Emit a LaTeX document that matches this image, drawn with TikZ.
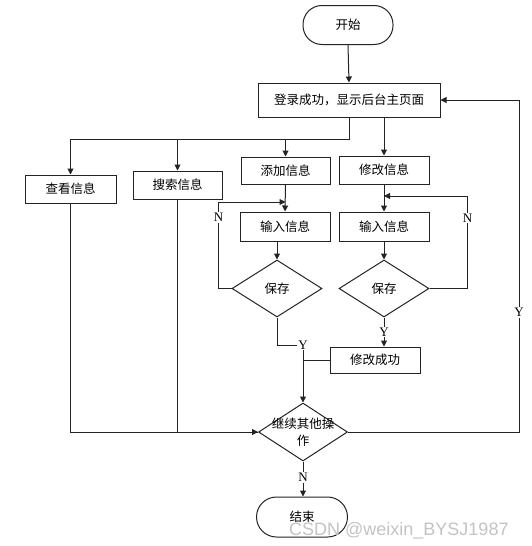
\documentclass[tikz,border=0pt]{standalone}
\usepackage{fontspec}
\setmainfont{Liberation Serif}
\newfontfamily\cjk{Noto Sans CJK SC}
\newfontfamily\wmfont{Liberation Sans}
\usetikzlibrary{arrows.meta,shapes.geometric}
\definecolor{linegray}{RGB}{35,35,35}
\definecolor{markgray}{RGB}{195,195,195}
\tikzset{
  box/.style={draw=linegray, line width=1pt, minimum width=90pt, minimum height=28pt,
    inner sep=0pt, font=\cjk\fontsize{12.5}{15}\selectfont},
  term/.style={box, rounded corners=19pt, minimum height=39pt},
  decision/.style={box, diamond, minimum width=90pt, minimum height=57pt},
  arr/.style={-{Triangle[length=6pt,width=6pt]}, line width=1pt, draw=linegray},
  link/.style={line width=1pt, draw=linegray},
  yn/.style={fill=white, inner sep=1pt, font=\fontsize{13}{13}\selectfont}
}
\begin{document}
\begin{tikzpicture}[x=1pt,y=-1pt]
    \useasboundingbox (0,0) rectangle (531,546);

    % nodes
    \node[term] (start) at (348,25) {开始};
    \node[box, minimum width=182pt, minimum height=34pt] (login) at (349,100) {登录成功，显示后台主页面};
    \node[box, minimum width=91pt] (view) at (70.5,189) {查看信息};
    \node[box, minimum width=89pt] (search) at (177.5,185) {搜索信息};
    \node[box, minimum width=89pt, minimum height=27pt] (add) at (285.5,170.5) {添加信息};
    \node[box] (edit) at (384,170) {修改信息};
    \node[box, minimum height=29pt] (inA) at (285,226.5) {输入信息};
    \node[box, minimum height=29pt] (inB) at (384,226.5) {输入信息};
    \node[decision] (saveA) at (277,288.5) {保存};
    \node[decision] (saveB) at (384,288.5) {保存};
    \node[box, minimum height=26pt] (ok) at (375,360) {修改成功};
    \node[decision, minimum width=89pt, minimum height=58pt,
          label={[align=center, inner sep=0pt, font=\cjk\fontsize{12.5}{17}\selectfont]center:继续其他操\\作}]
          (more) at (303,432) {};
    \node[term, minimum width=91pt, minimum height=40pt, rounded corners=20pt] (finish) at (302,517) {结束};

    \coordinate (fork) at (349,139);
    \coordinate (loopA) at (285.5,202);
    \coordinate (loopB) at (384,196);

    % connectors
    \draw[arr] (start.south) -- (login.north);
    \draw[arr] (login.south) -- (fork) -| (view.north);
    \draw[arr] (fork -| search.north) -- (search.north);
    \draw[arr] (fork -| add.north) -- (add.north);
    \draw[arr] (login.south -| edit.north) -- (edit.north);
    \draw[arr] (add.south) -- (inA.north);
    \draw[arr] (edit.south) -- (inB.north);
    \draw[arr] (inA.south -| saveA.north) -- (saveA.north);
    \draw[arr] (inB.south) -- (saveB.north);
    \draw[arr] (saveA.west) -- ++(-13,0) |- (loopA) node[yn, pos=0.41] {N};
    \draw[arr] (saveB.east) -- ++(38,0) |- (loopB) node[yn, pos=0.38] {N};
    \draw[arr] (saveA.south) |- (more.north |- 0,345) node[yn] {Y} -- (more.north);
    \draw[arr] (saveB.south) -- (saveB.south |- ok.north) node[yn, midway] {Y};
    \draw[link] (ok.west) -- (more.north |- ok.west);
    \draw[arr] (view.south) |- (more.west);
    \draw[link] (search.south) |- (more.west);
    \draw[arr] (more.east) -- ++(171,0) |- (login.east) node[yn, pos=0.18] {Y};
    \draw[arr] (more.south) -- (more.south |- finish.north) node[yn, pos=0.45] {N};

    % watermark
    \node[anchor=base west, inner sep=0pt, text=markgray, font=\wmfont\fontsize{18}{18}\selectfont]
        (mark) at (289,535) {CSDN @weixin\_BYSJ1987};
\end{tikzpicture}
\end{document}
